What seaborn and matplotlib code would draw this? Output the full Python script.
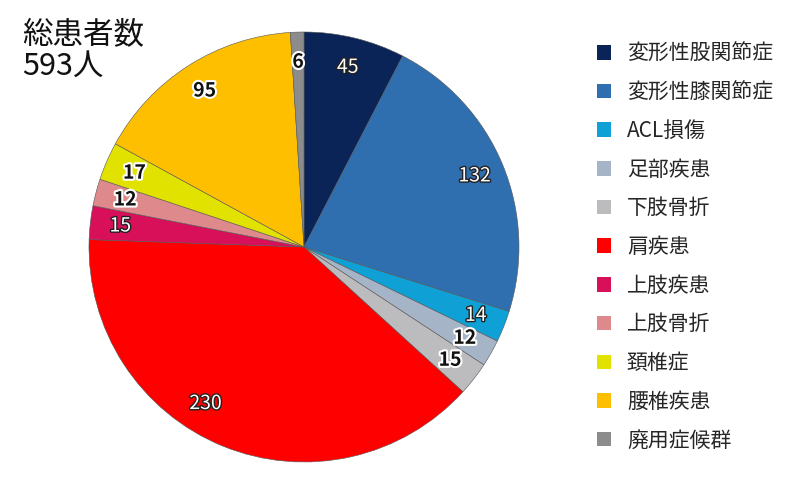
import matplotlib
matplotlib.use("Agg")
import matplotlib.pyplot as plt
import matplotlib.patheffects as pe
from matplotlib.patches import Patch
import numpy as np
import seaborn as sns

sns.set_style("white")
plt.rcParams['font.family'] = ['Noto Sans CJK JP', 'DejaVu Sans']

# data
categories = ['変形性股関節症', '変形性膝関節症', 'ACL損傷', '足部疾患', '下肢骨折', '肩疾患',
              '上肢疾患', '上肢骨折', '頚椎症', '腰椎疾患', '廃用症候群']
counts = [45, 132, 14, 12, 15, 230, 15, 12, 17, 95, 6]
colors = ['#0b2458', '#2f6fb0', '#0fa0d6', '#a5b4c6', '#bcbcbe', '#ff0000',
          '#d8105a', '#de8a8c', '#e2e200', '#fdbf00', '#8c8c8c']
# white text with dark outline vs dark text with white outline
white_label = [True, True, True, False, False, True, True, False, False, False, False]

fig = plt.figure(figsize=(8.09, 4.92), dpi=100)
ax = fig.add_axes([89 / 809, (492 - 247 - 215) / 492, 430 / 809, 430 / 492])

wedges, _ = ax.pie(counts, colors=colors, startangle=90, counterclock=False,
                   wedgeprops=dict(edgecolor='#555555', linewidth=0.4))
ax.set_xlim(-1, 1)
ax.set_ylim(-1, 1)
ax.set_aspect('equal')

# the big slice label sits off-centre in the original (best-fit placement)
shift = {5: -10}

total = sum(counts)
cum = 0
for i, v in enumerate(counts):
    mid = 90 - (cum + v / 2) / total * 360 + shift.get(i, 0)
    cum += v
    r = 0.86
    x, y = r * np.cos(np.radians(mid)), r * np.sin(np.radians(mid))
    if white_label[i]:
        ax.text(x, y, str(v), ha='center', va='center', fontsize=14, color='white',
                path_effects=[pe.withStroke(linewidth=2, foreground='#222222')])
    else:
        ax.text(x, y, str(v), ha='center', va='center', fontsize=14, color='#111111',
                fontweight='bold',
                path_effects=[pe.withStroke(linewidth=3, foreground='white')])

fig.text(22 / 809, 1 - 20 / 492, '総患者数\n593人', ha='left', va='top', fontsize=22,
         linespacing=1.0, color='#111111')

handles = [Patch(facecolor=c, edgecolor='none') for c in colors]
fig.legend(handles, categories, loc='upper left', bbox_to_anchor=(578 / 809, 1 - 24 / 492),
           frameon=False, fontsize=15, handlelength=0.7, handleheight=0.7,
           labelspacing=0.8, handletextpad=0.75)

fig.savefig('out.png', dpi=100)
